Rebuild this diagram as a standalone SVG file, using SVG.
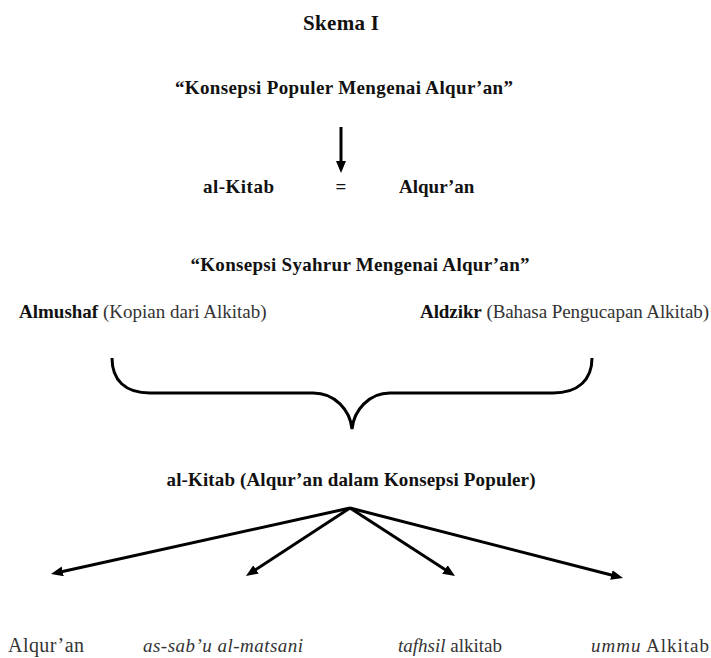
<svg xmlns="http://www.w3.org/2000/svg" width="711" height="658" viewBox="0 0 711 658" font-family="'Liberation Serif', Tinos, 'Times New Roman', 'DejaVu Serif', 'Noto Serif', serif">
  <style>
    text { font-family: "Liberation Serif", Tinos, "Times New Roman", "DejaVu Serif", "Noto Serif", serif; font-size: 19px; fill: #111; }
    .b { font-weight: bold; }
    .r { font-weight: normal; fill: #333; }
    .i { font-style: italic; }
    .mid { text-anchor: middle; }
    .title { font-size: 21px; }
    .big { font-size: 20px; }
    .conn { stroke: #000; stroke-width: 3; fill: none; }
  </style>
  <defs>
    <marker id="head" markerUnits="userSpaceOnUse" markerWidth="13" markerHeight="11" refX="6" refY="5" orient="auto">
      <path d="M0,0 L12,5 L0,10 z" fill="#000"/>
    </marker>
  </defs>

  <g id="title">
    <text class="b mid title" x="341" y="30" textLength="76">Skema I</text>
  </g>

  <g id="populer-heading">
    <text class="b mid" x="344" y="94" textLength="338">“Konsepsi Populer Mengenai Alqur’an”</text>
  </g>

  <g id="populer-equation">
    <text class="b" x="203" y="193" textLength="71">al-Kitab</text>
    <text class="b mid" x="341" y="193">=</text>
    <text class="b" x="399" y="193">Alqur’an</text>
  </g>

  <g id="syahrur-heading">
    <text class="b mid" x="360" y="271" textLength="339">“Konsepsi Syahrur Mengenai Alqur’an”</text>
  </g>

  <g id="almushaf">
    <text x="19" y="318"><tspan class="b">Almushaf</tspan><tspan class="r"> (Kopian dari Alkitab)</tspan></text>
  </g>

  <g id="aldzikr">
    <text x="420" y="318" textLength="289"><tspan class="b">Aldzikr</tspan><tspan class="r"> (Bahasa Pengucapan Alkitab)</tspan></text>
  </g>

  <g id="alkitab">
    <text class="b mid" x="351" y="486" textLength="369">al-Kitab (Alqur’an dalam Konsepsi Populer)</text>
  </g>

  <g id="alquran">
    <text class="r big" x="8" y="652" textLength="76">Alqur’an</text>
  </g>
  <g id="assabu">
    <text class="r i" x="143" y="652" textLength="160">as-sab’u al-matsani</text>
  </g>
  <g id="tafhsil">
    <text class="r" x="398" y="652"><tspan class="i">tafhsil</tspan> alkitab</text>
  </g>
  <g id="ummu">
    <text class="r" x="591" y="652" textLength="118"><tspan class="i">ummu</tspan> Alkitab</text>
  </g>

  <g id="connectors">
    <line class="conn" x1="341" y1="127" x2="341" y2="167" marker-end="url(#head)"/>
    <path class="conn" d="M112,358 C112,380 125,393 150,393 L313,393 C335,393 350,410 352,429 C354,410 369,393 390,393 L553,393 C578,393 592,380 592,358"/>
    <line class="conn" x1="350" y1="508" x2="56.9" y2="572.7" marker-end="url(#head)"/>
    <line class="conn" x1="350" y1="508" x2="251" y2="572.7" marker-end="url(#head)"/>
    <line class="conn" x1="350" y1="508" x2="450" y2="572.7" marker-end="url(#head)"/>
    <line class="conn" x1="350" y1="508" x2="617.2" y2="576.5" marker-end="url(#head)"/>
  </g>
</svg>
